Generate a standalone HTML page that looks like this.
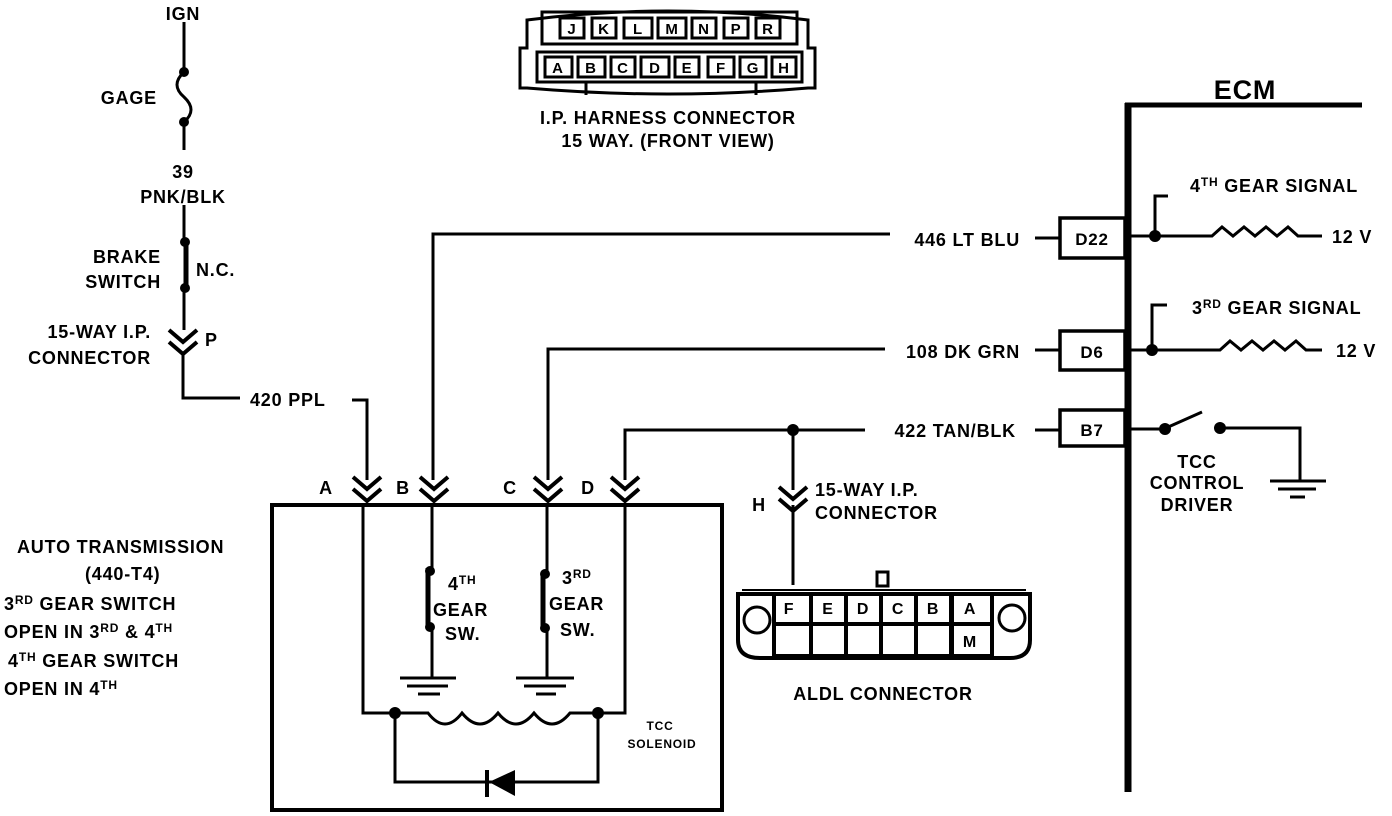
<!DOCTYPE html>
<html><head><meta charset="utf-8"><style>
html,body{margin:0;padding:0;background:#fff}
svg{display:block}
text{font-family:"Liberation Sans",Arial,sans-serif;font-weight:bold;fill:#000;letter-spacing:0.8px}
</style></head><body>
<svg width="1392" height="816" viewBox="0 0 1392 816" xmlns="http://www.w3.org/2000/svg">
<g stroke="#000" stroke-width="3" fill="none">
<line x1="1128" y1="103" x2="1128" y2="792" stroke-width="7"/>
<line x1="1125" y1="105" x2="1362" y2="105" stroke-width="5"/>
<rect x="1060" y="218" width="65" height="40" stroke-width="3.5"/>
<rect x="1060" y="331" width="65" height="39" stroke-width="3.5"/>
<rect x="1060" y="410" width="65" height="36" stroke-width="3.5"/>
<line x1="1035" y1="238" x2="1060" y2="238"/>
<line x1="1035" y1="350" x2="1060" y2="350"/>
<line x1="1035" y1="430" x2="1060" y2="430"/>
<polyline points="1130,236 1212,236 1222,227 1233,236 1244,227 1255,236 1266,227 1277,236 1288,227 1298,236 1322,236"/>
<polyline points="1155,236 1155,196 1168,196"/>
<polyline points="1130,350 1220,350 1230,341 1241,350 1252,341 1263,350 1274,341 1285,350 1296,341 1306,350 1322,350"/>
<polyline points="1152,350 1152,305 1167,305"/>
<line x1="1130" y1="429" x2="1165" y2="429"/>
<line x1="1166" y1="428" x2="1202" y2="412"/>
<polyline points="1220,428 1300,428 1300,480"/>
<line x1="1270" y1="481" x2="1326" y2="481"/>
<line x1="1278" y1="489" x2="1316" y2="489"/>
<line x1="1290" y1="497" x2="1305" y2="497"/>
<polyline points="433,480 433,234 890,234"/>
<polyline points="548,480 548,349 885,349"/>
<polyline points="625,480 625,430 865,430"/>
<polyline points="793,430 793,490"/>
<polyline points="793,505 793,585"/>
<polyline points="183,355 183,398 240,398"/>
<polyline points="352,400 367,400 367,480"/>
<g stroke-width="4">
<polyline points="353,477 367,489 381,477"/><polyline points="353,489 367,501 381,489"/>
<polyline points="420,477 434,489 448,477"/><polyline points="420,489 434,501 448,489"/>
<polyline points="534,477 548,489 562,477"/><polyline points="534,489 548,501 562,489"/>
<polyline points="611,477 625,489 639,477"/><polyline points="611,489 625,501 639,489"/>
<polyline points="779,487 793,499 807,487"/><polyline points="779,499 793,511 807,499"/>
<polyline points="169,330 183,342 197,330"/><polyline points="169,342 183,354 197,342"/>
</g>
<rect x="272" y="505" width="450" height="305" stroke-width="4"/>
<polyline points="363,505 363,713 395,713"/>
<polyline points="625,505 625,713 598,713"/>
<path d="M395,713 L428,713 Q445,735 462,713 Q480,735 498,713 Q516,735 534,713 Q552,735 570,713 L598,713"/>
<polyline points="395,713 395,782 598,782 598,713"/>
<line x1="432" y1="505" x2="432" y2="568"/>
<line x1="428" y1="568" x2="428" y2="627" stroke-width="5"/>
<line x1="432" y1="627" x2="432" y2="678"/>
<line x1="400" y1="678" x2="456" y2="678"/>
<line x1="407" y1="686" x2="448" y2="686"/>
<line x1="418" y1="694" x2="440" y2="694"/>
<line x1="547" y1="505" x2="547" y2="572"/>
<line x1="543" y1="572" x2="543" y2="628" stroke-width="5"/>
<line x1="547" y1="628" x2="547" y2="678"/>
<line x1="516" y1="678" x2="574" y2="678"/>
<line x1="524" y1="686" x2="566" y2="686"/>
<line x1="536" y1="694" x2="556" y2="694"/>
<line x1="487" y1="770" x2="487" y2="797" stroke-width="4"/>
<line x1="184" y1="22" x2="184" y2="72"/>
<path d="M184,72 Q170,85 184,97 Q198,110 184,122"/>
<line x1="184" y1="122" x2="184" y2="150"/>
<line x1="184" y1="205" x2="184" y2="242"/>
<line x1="186" y1="242" x2="186" y2="288" stroke-width="5"/>
<line x1="184" y1="288" x2="184" y2="330"/>
<path d="M527,20 Q668,2 808,20 L808,48 L815,48 L815,88 L808,88 Q668,100 527,88 L520,88 L520,48 L527,48 Z" stroke-width="3"/>
<rect x="542" y="12" width="255" height="32" stroke-width="3"/>
<rect x="537" y="52" width="265" height="30" stroke-width="3"/>
<line x1="586" y1="82" x2="586" y2="95"/><line x1="756" y1="82" x2="756" y2="95"/>
<path d="M738,594 L738,640 Q738,658 760,658 L1010,658 Q1030,658 1030,640 L1030,594 Z" stroke-width="4"/>
<line x1="742" y1="590" x2="1026" y2="590" stroke-width="2"/>
<circle cx="757" cy="620" r="13"/><circle cx="1012" cy="618" r="13"/>
<rect x="877" y="572" width="11" height="14" stroke-width="3"/>
</g>
<g fill="#000">
<circle cx="1155" cy="236" r="6"/><circle cx="1152" cy="350" r="6"/>
<circle cx="1165" cy="429" r="6"/><circle cx="1220" cy="428" r="6"/>
<circle cx="793" cy="430" r="6"/>
<circle cx="395" cy="713" r="6"/><circle cx="598" cy="713" r="6"/>
<circle cx="430" cy="571" r="5"/><circle cx="430" cy="627" r="5"/>
<circle cx="545" cy="574" r="5"/><circle cx="545" cy="628" r="5"/>
<circle cx="184" cy="72" r="5"/><circle cx="184" cy="122" r="5"/>
<circle cx="185" cy="242" r="5"/><circle cx="185" cy="288" r="5"/>
<polygon points="489,782 515,770 515,796"/>
<rect x="772" y="592" width="222" height="64"/>
</g>
<g fill="#fff">
<rect x="776" y="596" width="33" height="26"/><rect x="813" y="596" width="31" height="26"/><rect x="848" y="596" width="31" height="26"/><rect x="883" y="596" width="31" height="26"/><rect x="918" y="596" width="31" height="26"/><rect x="954" y="596" width="36" height="26"/>
<rect x="776" y="626" width="33" height="28"/><rect x="813" y="626" width="31" height="28"/><rect x="848" y="626" width="31" height="28"/><rect x="883" y="626" width="31" height="28"/><rect x="918" y="626" width="31" height="28"/><rect x="954" y="626" width="36" height="28"/>
</g>
<g stroke="#000" stroke-width="3" fill="none">
<rect x="560" y="18" width="24" height="20"/><rect x="592" y="18" width="24" height="20"/><rect x="624" y="18" width="28" height="20"/><rect x="658" y="18" width="28" height="20"/><rect x="692" y="18" width="24" height="20"/><rect x="724" y="18" width="24" height="20"/><rect x="756" y="18" width="24" height="20"/>
<rect x="545" y="57" width="27" height="20"/><rect x="578" y="57" width="27" height="20"/><rect x="611" y="57" width="24" height="20"/><rect x="641" y="57" width="28" height="20"/><rect x="675" y="57" width="24" height="20"/><rect x="708" y="57" width="26" height="20"/><rect x="740" y="57" width="26" height="20"/><rect x="772" y="57" width="24" height="20"/>
</g>
<g font-size="15" text-anchor="middle">
<text x="572" y="34">J</text><text x="604" y="34">K</text><text x="638" y="34">L</text><text x="672" y="34">M</text><text x="704" y="34">N</text><text x="736" y="34">P</text><text x="768" y="34">R</text>
<text x="558" y="73">A</text><text x="591" y="73">B</text><text x="623" y="73">C</text><text x="655" y="73">D</text><text x="687" y="73">E</text><text x="721" y="73">F</text><text x="753" y="73">G</text><text x="784" y="73">H</text>
</g>
<g font-size="18">
<text x="668" y="124" text-anchor="middle">I.P. HARNESS CONNECTOR</text>
<text x="668" y="147" text-anchor="middle">15 WAY. (FRONT VIEW)</text>
<text x="1245" y="99" text-anchor="middle" font-size="27">ECM</text>
<text x="1190" y="192">4<tspan font-size="12" dy="-6">TH</tspan><tspan dy="6">  GEAR SIGNAL</tspan></text>
<text x="1192" y="314">3<tspan font-size="12" dy="-6">RD</tspan><tspan dy="6"> GEAR SIGNAL</tspan></text>
<text x="1332" y="243">12 V</text>
<text x="1336" y="357">12 V</text>
<text x="1092" y="245" text-anchor="middle" font-size="17">D22</text>
<text x="1092" y="358" text-anchor="middle" font-size="17">D6</text>
<text x="1092" y="436" text-anchor="middle" font-size="17">B7</text>
<text x="1197" y="468" text-anchor="middle">TCC</text>
<text x="1197" y="489" text-anchor="middle">CONTROL</text>
<text x="1197" y="511" text-anchor="middle">DRIVER</text>
<text x="1020" y="246" text-anchor="end">446  LT BLU</text>
<text x="1020" y="358" text-anchor="end">108  DK GRN</text>
<text x="1016" y="437" text-anchor="end">422  TAN/BLK</text>
<text x="815" y="496">15-WAY I.P.</text>
<text x="815" y="519">CONNECTOR</text>
<text x="759" y="511" text-anchor="middle">H</text>
<text x="883" y="700" text-anchor="middle">ALDL CONNECTOR</text>
<text x="326" y="494" text-anchor="middle">A</text><text x="403" y="494" text-anchor="middle">B</text><text x="510" y="494" text-anchor="middle">C</text><text x="588" y="494" text-anchor="middle">D</text>
<text x="448" y="590">4<tspan font-size="12" dy="-6">TH</tspan></text>
<text x="433" y="616">GEAR</text><text x="445" y="640">SW.</text>
<text x="562" y="584">3<tspan font-size="12" dy="-6">RD</tspan></text>
<text x="549" y="610">GEAR</text><text x="560" y="636">SW.</text>
<text x="183" y="20" text-anchor="middle">IGN</text>
<text x="157" y="104" text-anchor="end">GAGE</text>
<text x="183" y="178" text-anchor="middle">39</text>
<text x="183" y="203" text-anchor="middle">PNK/BLK</text>
<text x="161" y="263" text-anchor="end">BRAKE</text>
<text x="161" y="288" text-anchor="end">SWITCH</text>
<text x="196" y="276">N.C.</text>
<text x="151" y="338" text-anchor="end">15-WAY I.P.</text>
<text x="151" y="364" text-anchor="end">CONNECTOR</text>
<text x="205" y="346">P</text>
<text x="250" y="406">420 PPL</text>
<text x="17" y="553">AUTO TRANSMISSION</text>
<text x="85" y="580">(440-T4)</text>
<text x="4" y="610">3<tspan font-size="12" dy="-6">RD</tspan><tspan dy="6"> GEAR SWITCH</tspan></text>
<text x="4" y="638">OPEN IN 3<tspan font-size="12" dy="-6">RD</tspan><tspan dy="6"> &amp; 4</tspan><tspan font-size="12" dy="-6">TH</tspan></text>
<text x="8" y="667">4<tspan font-size="12" dy="-6">TH</tspan><tspan dy="6"> GEAR SWITCH</tspan></text>
<text x="4" y="695">OPEN IN 4<tspan font-size="12" dy="-6">TH</tspan></text>
<text x="789" y="614" font-size="16" text-anchor="middle">F</text>
<text x="828" y="614" font-size="16" text-anchor="middle">E</text>
<text x="863" y="614" font-size="16" text-anchor="middle">D</text>
<text x="898" y="614" font-size="16" text-anchor="middle">C</text>
<text x="933" y="614" font-size="16" text-anchor="middle">B</text>
<text x="970" y="614" font-size="16" text-anchor="middle">A</text>
<text x="970" y="647" font-size="16" text-anchor="middle">M</text>
</g>
<g font-size="12" text-anchor="middle">
<text x="660" y="730">TCC</text><text x="662" y="748">SOLENOID</text>
</g>
</svg>
</body></html>
